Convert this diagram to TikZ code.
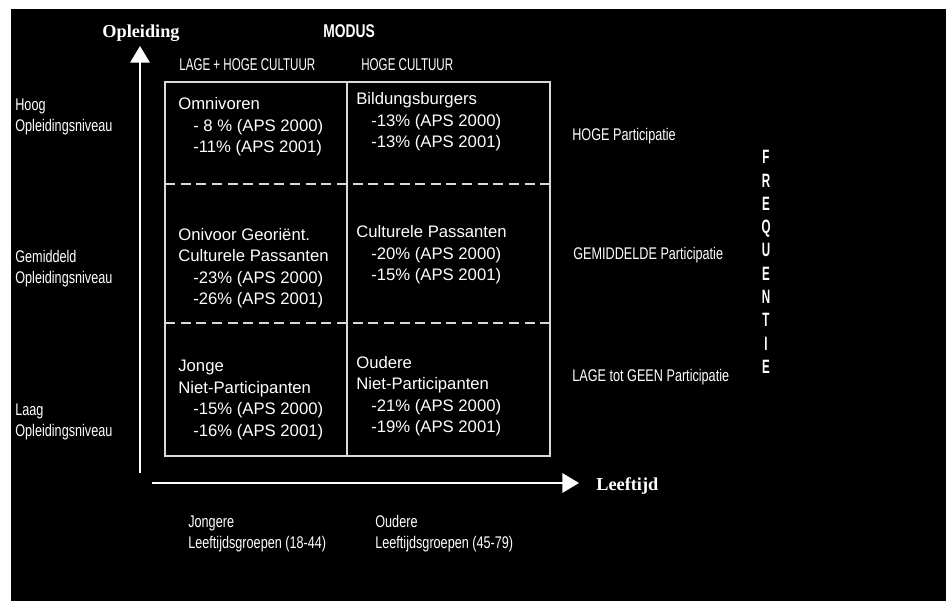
\documentclass[tikz,border=0pt]{standalone}
\usepackage{fontspec}
\setmainfont{Liberation Sans}
\newfontfamily\condfont[FakeStretch=0.75]{Liberation Sans}
\newfontfamily\kolomfont[FakeStretch=0.68]{Liberation Sans}
\newfontfamily\freqfont[FakeStretch=0.6]{Liberation Sans}
\newfontfamily\kopfont{Liberation Serif}
\usetikzlibrary{arrows.meta}

\begin{document}
\begin{tikzpicture}[x=0.02cm, y=-0.02cm,
		cell/.style={anchor=west, align=left, inner sep=0pt, text=white, font=\fontsize{9.5pt}{12.2pt}\selectfont},
		lab/.style={anchor=west, align=left, inner sep=0pt, text=white, font=\condfont\fontsize{9.6pt}{12pt}\selectfont},
		kolom/.style={lab, font=\kolomfont\fontsize{9.7pt}{12pt}\selectfont},
		kop/.style={inner sep=0pt, text=white, font=\kopfont\bfseries\fontsize{10.4pt}{12pt}\selectfont},
		as/.style={draw=white, line width=1.3pt, -{Triangle[length=9.5pt, width=11pt]}},
		raster/.style={draw=white!85!black, line width=0.85pt},
		scheiding/.style={raster, dash pattern=on 5.7pt off 3.2pt}]
			%%%%% START %%%%%
			
			\fill[white] (0, 0) rectangle (946, 601);
			\fill[black] (11, 9) rectangle (946, 601);
			
			% assen
			\coordinate (yvoet) at (140, 473);
			\coordinate (ytop) at (140, 46);
			\coordinate (xvoet) at (152, 483);
			\coordinate (xtop) at (579, 483);
			\draw[as] (yvoet) -- (ytop);
			\draw[as] (xvoet) -- (xtop);
			
			\node[kop] (opleiding) at (141, 33) {Opleiding};
			\node[kop, anchor=west] (leeftijd) at (596, 486) {Leeftijd};
			\node[inner sep=0pt, text=white, font=\condfont\bfseries\fontsize{10.5pt}{12pt}\selectfont] (modus) at (349, 31) {MODUS};
			
			% raster
			\coordinate (lb) at (165, 82);
			\coordinate (ro) at (550, 456);
			\draw[raster] (lb) rectangle (ro);
			\draw[raster] (347, 82) -- (347, 456);
			\draw[scheiding] (165, 184) -- (550, 184);
			\draw[scheiding] (165, 323) -- (550, 323);
			
			\node[kolom] (lagehoog) at (179, 65) {LAGE + HOGE CULTUUR};
			\node[kolom] (hoog) at (361, 65) {HOGE CULTUUR};
			
			\node[cell] (omni) at (178, 127) {Omnivoren\\\hspace*{8.5pt}- 8 \% (APS 2000)\\\hspace*{8.5pt}-11\% (APS 2001)};
			\node[cell] (bildung) at (356, 122) {Bildungsburgers\\\hspace*{8.5pt}-13\% (APS 2000)\\\hspace*{8.5pt}-13\% (APS 2001)};
			\node[cell] (onivoor) at (178, 268) {Onivoor Georiënt.\\Culturele Passanten\\\hspace*{8.5pt}-23\% (APS 2000)\\\hspace*{8.5pt}-26\% (APS 2001)};
			\node[cell] (passant) at (356, 255) {Culturele Passanten\\\hspace*{8.5pt}-20\% (APS 2000)\\\hspace*{8.5pt}-15\% (APS 2001)};
			\node[cell] (jong) at (178, 400) {Jonge\\Niet-Participanten\\\hspace*{8.5pt}-15\% (APS 2000)\\\hspace*{8.5pt}-16\% (APS 2001)};
			\node[cell] (oud) at (356, 396) {Oudere\\Niet-Participanten\\\hspace*{8.5pt}-21\% (APS 2000)\\\hspace*{8.5pt}-19\% (APS 2001)};
			
			% links: opleidingsniveau
			\node[lab] (niv1) at (15, 117) {Hoog\\Opleidingsniveau};
			\node[lab] (niv2) at (15, 269) {Gemiddeld\\Opleidingsniveau};
			\node[lab] (niv3) at (15, 422) {Laag\\Opleidingsniveau};
			
			% rechts: participatie
			\node[lab] (part1) at (572, 136) {HOGE Participatie};
			\node[lab] (part2) at (573, 255) {GEMIDDELDE Participatie};
			\node[lab] (part3) at (572, 377) {LAGE tot GEEN Participatie};
			\node[align=center, inner sep=0pt, text=white, font=\freqfont\bfseries\fontsize{11pt}{13.27pt}\selectfont] (freq) at (766, 262) {F\\R\\E\\Q\\U\\E\\N\\T\\I\\E};
			
			% onder: leeftijdsgroepen
			\node[lab] (groep1) at (188, 534) {Jongere\\Leeftijdsgroepen (18-44)};
			\node[lab] (groep2) at (375, 534) {Oudere\\Leeftijdsgroepen (45-79)};
			
			%%%%% END %%%%%
		\end{tikzpicture}
\end{document}
